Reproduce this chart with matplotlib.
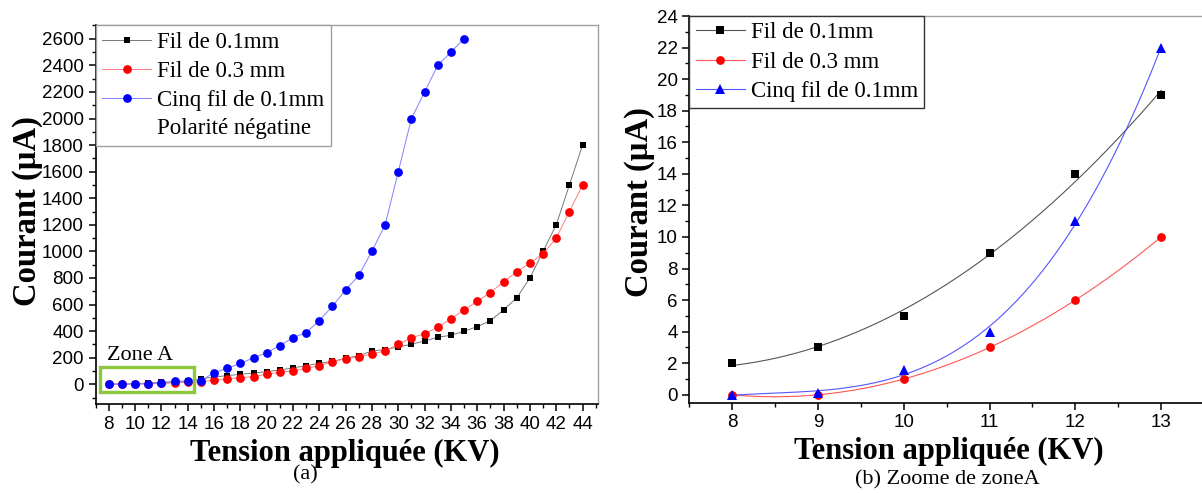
import numpy as np
import matplotlib
matplotlib.use("Agg")
import matplotlib.pyplot as plt
from matplotlib.lines import Line2D
from matplotlib.patches import Rectangle
from matplotlib.ticker import MultipleLocator

# (a) full range, Polarité négatine
kv_fil01 = list(range(8, 45))
i_fil01 = [2, 3, 5, 9, 14, 19, 25, 40, 55, 65, 75, 85, 95, 108, 123, 140, 158, 172,
           195, 215, 251, 261, 281, 301, 326, 354, 369, 399, 434, 479, 560, 650,
           800, 1000, 1200, 1500, 1800]
kv_fil03 = list(range(8, 45))
i_fil03 = [0, 0, 1, 3, 6, 10, 15, 20, 30, 40, 50, 57, 75, 90, 100, 120, 140, 170,
           193, 208, 228, 251, 301, 351, 379, 430, 492, 560, 625, 690, 771, 846,
           912, 982, 1100, 1300, 1500]
kv_cinq = list(range(8, 36))
i_cinq = [0, 0, 1.6, 4, 11, 22, 22, 25, 88, 120, 158, 198, 238, 291, 351, 389,
          479, 588, 711, 819, 1002, 1200, 1600, 2000, 2200, 2400, 2500, 2600]

# (b) zone A
kv_zone = [8, 9, 10, 11, 12, 13]
z_fil01 = [2, 3, 5, 9, 14, 19]
z_fil03 = [0, 0, 1, 3, 6, 10]
z_cinq = [0, 0.1, 1.6, 4, 11, 22]

labels = ["Fil de 0.1mm", "Fil de 0.3 mm", "Cinq fil de 0.1mm"]
note = "Polarité négatine"

serif = "Liberation Serif"
sans = "Liberation Sans"
plt.rcParams["font.family"] = sans

fig = plt.figure(figsize=(12.02, 4.93), dpi=100)
ax1 = fig.add_axes([0.0795, 0.1801, 0.4183, 0.7682])
ax2 = fig.add_axes([0.5735, 0.1832, 0.4282, 0.7843])


def style_axes(ax):
    for s in ["top", "right"]:
        ax.spines[s].set_color("#a0a0a0")
        ax.spines[s].set_linewidth(1.0)
    for s in ["left", "bottom"]:
        ax.spines[s].set_linewidth(1.2)
    ax.tick_params(which="major", direction="out", length=5, width=1.1, labelsize=13.5)
    ax.tick_params(which="minor", direction="out", length=3, width=1.0)
    ax.tick_params(top=False, right=False, which="both")
    for lab in ax.get_xticklabels() + ax.get_yticklabels():
        lab.set_fontfamily(sans)


# ---- (a)
ax1.plot(kv_fil01, i_fil01, color="#777777", lw=0.7, marker="s", ms=5,
         mfc="black", mec="black", mew=0, label=labels[0], zorder=3)
ax1.plot(kv_fil03, i_fil03, color="#ff8080", lw=0.7, marker="o", ms=6.3,
         mfc="red", mec="red", mew=0, label=labels[1], zorder=4)
ax1.plot(kv_cinq, i_cinq, color="#8080ff", lw=0.7, marker="o", ms=6.3,
         mfc="blue", mec="blue", mew=0, label=labels[2], zorder=5)
ax1.set_xlim(7, 45.2)
ax1.set_ylim(-150, 2700)
ax1.xaxis.set_major_locator(MultipleLocator(2))
ax1.xaxis.set_minor_locator(MultipleLocator(1))
ax1.yaxis.set_major_locator(MultipleLocator(200))
ax1.yaxis.set_minor_locator(MultipleLocator(100))
style_axes(ax1)

ax1.add_patch(Rectangle((7.36, -60), 7.15, 193, fill=False, ec="#8dc63f", lw=2.4, zorder=6))
ax1.text(7.9, 183, "Zone A", fontfamily=serif, fontsize=16, ha="left", va="baseline")

h, l = ax1.get_legend_handles_labels()
h.append(Line2D([], [], color="none"))
l.append(note)
leg = ax1.legend(h, l, loc="upper left", bbox_to_anchor=(0, 1), borderaxespad=0,
                 fancybox=False, edgecolor="#a0a0a0", framealpha=1,
                 prop={"family": serif, "size": 16.5}, handlelength=2.15,
                 handletextpad=0.25, borderpad=0.28, labelspacing=0.34)
leg.get_frame().set_linewidth(1.0)

ax1.set_xlabel("Tension appliquée (KV)", fontfamily=serif, fontsize=22, fontweight="bold")
ax1.set_ylabel("Courant (µA)", fontfamily=serif, fontsize=23.5, fontweight="bold")
ax1.xaxis.set_label_coords(0.496, -0.129)
ax1.xaxis.label.set_va("center")
ax1.yaxis.set_label_coords(-0.136, 0.51)
ax1.yaxis.label.set_va("center")

# ---- (b)
xs = np.linspace(8, 13, 200)
for y, deg, c, lc, m, ms, lab in [(z_fil01, 2, "black", "#555555", "s", 5.5, labels[0]),
                                  (z_fil03, 3, "red", "#ff5555", "o", 6.3, labels[1]),
                                  (z_cinq, 3, "blue", "#5555ff", "^", 6.5, labels[2])]:
    fit = np.polyfit(kv_zone, y, deg)
    ax2.plot(xs, np.polyval(fit, xs), color=lc, lw=0.8, zorder=2)
    ax2.plot(kv_zone, y, ls="none", marker=m, ms=ms, mfc=c, mec=c, mew=0, zorder=3)
    ax2.plot([], [], color=lc, lw=0.8, marker=m, ms=ms, mfc=c, mec=c, mew=0, label=lab)

ax2.set_xlim(7.5, 13.5)
ax2.set_ylim(-0.5, 24)
ax2.xaxis.set_major_locator(MultipleLocator(1))
ax2.xaxis.set_minor_locator(MultipleLocator(0.5))
ax2.yaxis.set_major_locator(MultipleLocator(2))
ax2.yaxis.set_minor_locator(MultipleLocator(1))
style_axes(ax2)
ax2.spines["right"].set_visible(False)

leg2 = ax2.legend(loc="upper left", bbox_to_anchor=(0, 1), borderaxespad=0,
                  fancybox=False, edgecolor="#333333", framealpha=1,
                  prop={"family": serif, "size": 16.5}, handlelength=2.15,
                  handletextpad=0.25, borderpad=0.28, labelspacing=0.36)
leg2.get_frame().set_linewidth(1.0)

ax2.set_xlabel("Tension appliquée (KV)", fontfamily=serif, fontsize=22, fontweight="bold")
ax2.set_ylabel("Courant (µA)", fontfamily=serif, fontsize=23.5, fontweight="bold")
ax2.xaxis.set_label_coords(0.504, -0.127)
ax2.xaxis.label.set_va("center")
ax2.yaxis.set_label_coords(-0.096, 0.52)
ax2.yaxis.label.set_va("center")

fig.text(305 / 1202, 1 - 475 / 493, "(a)", fontfamily=serif, fontsize=16,
         ha="center", va="center")
fig.text(947 / 1202, 1 - 480 / 493, "(b) Zoome de zoneA", fontfamily=serif,
         fontsize=16, ha="center", va="center")

fig.savefig("out.png", dpi=100)
